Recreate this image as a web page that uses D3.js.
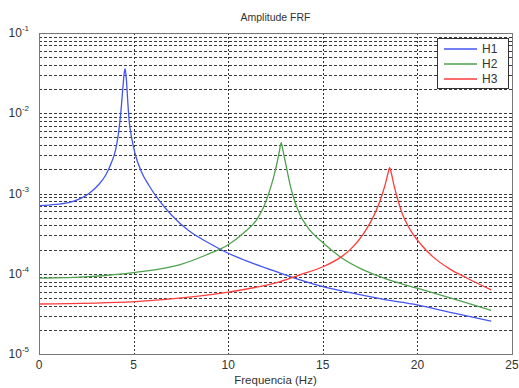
<!DOCTYPE html>
<html>
<head>
<meta charset="utf-8">
<script src="https://cdn.jsdelivr.net/npm/d3@7.9.0/dist/d3.min.js"></script>
<style>
  body { margin: 0; background: #fff; }
  svg text { font-family: "Liberation Sans", Arial, sans-serif; fill: #333; }
</style>
</head>
<body>
<svg id="chart" width="519" height="388"></svg>
<script>
// values
const freqH1 = [0, 0.9, 1.76, 2.64, 3.1, 3.53, 3.85, 4.06, 4.2, 4.32, 4.42, 4.5, 4.55, 4.62, 4.7, 4.76, 4.9, 5.1, 5.4, 5.82, 6.35, 7.0, 7.94, 9.0, 10.0, 11.3, 12.75, 13.8, 15.0, 16.45, 18.2, 19.98, 22.0, 23.9];
const magH1 = [7.05e-4, 7.3e-4, 7.9e-4, 1.0e-3, 1.25e-3, 1.7e-3, 2.5e-3, 3.6e-3, 5.6e-3, 1.0e-2, 1.9e-2, 3.1e-2, 3.6e-2, 2.6e-2, 1.3e-2, 8.3e-3, 4.9e-3, 3.0e-3, 1.9e-3, 1.25e-3, 8.2e-4, 5.4e-4, 3.4e-4, 2.4e-4, 1.8e-4, 1.35e-4, 1.02e-4, 8.4e-5, 6.9e-5, 5.8e-5, 4.8e-5, 4.1e-5, 3.2e-5, 2.57e-5];

const freqH2 = [0, 2.64, 5.1, 7.46, 8.8, 10.0, 10.8, 11.5, 11.9, 12.2, 12.4, 12.58, 12.7, 12.8, 12.9, 13.0, 13.1, 13.3, 13.55, 13.8, 14.16, 15.04, 15.93, 17.2, 18.5, 19.98, 22.0, 23.9];
const magH2 = [8.8e-5, 9.2e-5, 1.04e-4, 1.3e-4, 1.7e-4, 2.3e-4, 3.2e-4, 4.7e-4, 7.0e-4, 1.1e-3, 1.6e-3, 2.4e-3, 3.3e-3, 4.3e-3, 3.4e-3, 2.6e-3, 2.0e-3, 1.2e-3, 7.6e-4, 5.4e-4, 3.9e-4, 2.4e-4, 1.62e-4, 1.1e-4, 8.4e-5, 6.6e-5, 4.8e-5, 3.5e-5];

const freqH3 = [0, 5.1, 7.94, 10.0, 12.75, 13.8, 15.04, 15.93, 16.45, 17.34, 17.7, 18.04, 18.3, 18.45, 18.53, 18.62, 18.75, 18.92, 19.2, 19.63, 20.2, 20.86, 21.7, 22.63, 23.9];
const magH3 = [4.2e-5, 4.5e-5, 5.1e-5, 5.9e-5, 8.0e-5, 9.7e-5, 1.23e-4, 1.6e-4, 2.0e-4, 3.7e-4, 5.3e-4, 8.3e-4, 1.3e-3, 1.8e-3, 2.1e-3, 1.8e-3, 1.3e-3, 9.1e-4, 5.6e-4, 3.5e-4, 2.3e-4, 1.6e-4, 1.15e-4, 8.8e-5, 6.3e-5];

const seriesNames = ['H1', 'H2', 'H3'];
const seriesColors = ['#4455f2', '#4ea24e', '#ff3b3b'];
const xTicks = [0, 5, 10, 15, 20, 25];
const yDecades = [-5, -4, -3, -2, -1];

const svg = d3.select('#chart');
const margin = { left: 39, top: 33, right: 7, bottom: 34 };
const W = 519, H = 388;

const x = d3.scaleLinear().domain([0, 25]).range([margin.left, W - margin.right]);
const y = d3.scaleLog().domain([1e-5, 1e-1]).range([H - margin.bottom, margin.top]);

// horizontal grid at every log subdivision
const minor = [];
yDecades.slice(0, -1).forEach(e => {
  for (let k = 1; k <= 9; k++) minor.push(k * Math.pow(10, e));
});

svg.append('g')
  .selectAll('line')
  .data(minor.filter(v => v > 1e-5))
  .enter().append('line')
  .attr('x1', x(0)).attr('x2', x(25))
  .attr('y1', d => Math.round(y(d)) + 0.5).attr('y2', d => Math.round(y(d)) + 0.5)
  .attr('stroke', '#3a3a3a')
  .attr('stroke-dasharray', '3,2')
  .attr('stroke-width', 1);

// vertical grid at major x ticks
svg.append('g')
  .selectAll('line')
  .data(xTicks.slice(1, -1))
  .enter().append('line')
  .attr('x1', d => Math.round(x(d)) + 0.5).attr('x2', d => Math.round(x(d)) + 0.5)
  .attr('y1', y(1e-1)).attr('y2', y(1e-5))
  .attr('stroke', '#333')
  .attr('stroke-dasharray', '2,2')
  .attr('stroke-width', 1);

// curves
const line = d3.line()
  .x(d => x(d[0]))
  .y(d => y(d[1]))
  .curve(d3.curveMonotoneX);
const data = [
  d3.zip(freqH1, magH1),
  d3.zip(freqH2, magH2),
  d3.zip(freqH3, magH3)
];
svg.append('g')
  .selectAll('path')
  .data(data)
  .enter().append('path')
  .attr('d', line)
  .attr('fill', 'none')
  .attr('stroke', (d, i) => seriesColors[i])
  .attr('stroke-width', 1.3);

// axes box
svg.append('rect')
  .attr('x', x(0) + 0.5).attr('y', y(1e-1) + 0.5)
  .attr('width', x(25) - x(0)).attr('height', y(1e-5) - y(1e-1))
  .attr('fill', 'none')
  .attr('stroke', '#777')
  .attr('stroke-width', 1);

// x tick labels
svg.append('g')
  .selectAll('text')
  .data(xTicks)
  .enter().append('text')
  .attr('x', d => x(d))
  .attr('y', H - margin.bottom + 15)
  .attr('text-anchor', 'middle')
  .attr('font-size', 12)
  .text(d => d);

// y tick labels 10^n
const yl = svg.append('g')
  .selectAll('text')
  .data(yDecades)
  .enter().append('text')
  .attr('x', 29)
  .attr('y', d => y(Math.pow(10, d)) + 4)
  .attr('text-anchor', 'end')
  .attr('font-size', 12);
yl.append('tspan').text('10');
yl.append('tspan').attr('dy', -6).attr('font-size', 8).text(d => d);

// title and x label
svg.append('text')
  .attr('x', (x(0) + x(25)) / 2).attr('y', 21)
  .attr('text-anchor', 'middle')
  .attr('font-size', 10.5)
  .text('Amplitude FRF');

svg.append('text')
  .attr('x', (x(0) + x(25)) / 2).attr('y', 384)
  .attr('text-anchor', 'middle')
  .attr('font-size', 11.5)
  .text('Frequencia (Hz)');

// legend
const lg = svg.append('g').attr('transform', 'translate(437,38)');
lg.append('rect')
  .attr('x', 0.5).attr('y', 0.5)
  .attr('width', 71).attr('height', 50)
  .attr('fill', '#fff')
  .attr('stroke', '#333');
seriesNames.forEach((name, i) => {
  const yy = 11 + i * 15;
  lg.append('line')
    .attr('x1', 7).attr('x2', 40)
    .attr('y1', yy).attr('y2', yy)
    .attr('stroke', seriesColors[i])
    .attr('stroke-width', 1.3);
  lg.append('text')
    .attr('x', 45).attr('y', yy + 4)
    .attr('font-size', 12)
    .text(name);
});
</script>
</body>
</html>
